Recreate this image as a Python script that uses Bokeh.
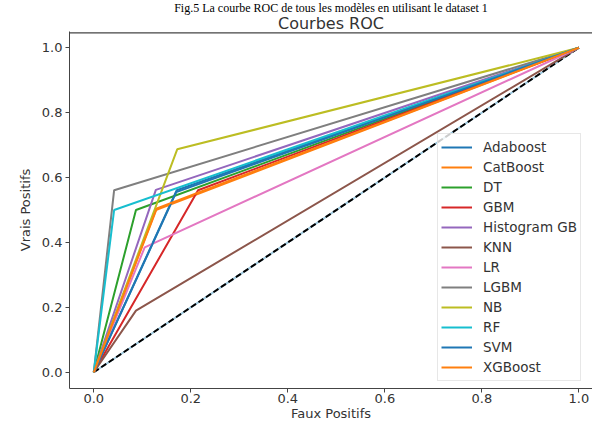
from bokeh.plotting import figure
from bokeh.models import (Range1d, FixedTicker, PrintfTickFormatter, Legend, LegendItem,
                          Span, Title)
from bokeh.embed import file_html
from bokeh.resources import INLINE

models = ["Adaboost", "CatBoost", "DT", "GBM", "Histogram GB", "KNN", "LR", "LGBM",
          "NB", "RF", "SVM", "XGBoost"]
fpr_mid = [0.171, 0.128, 0.087, 0.215, 0.128, 0.087, 0.105, 0.042, 0.172, 0.042, 0.170, 0.130]
tpr_mid = [0.561, 0.500, 0.500, 0.561, 0.562, 0.190, 0.385, 0.561, 0.687, 0.500, 0.555, 0.505]
colors = ["#1f77b4", "#ff7f0e", "#2ca02c", "#d62728", "#9467bd", "#8c564b", "#e377c2",
          "#7f7f7f", "#bcbd22", "#17becf", "#1f77b4", "#ff7f0e"]
diag = [0.0, 1.0]
ticks = [0.0, 0.2, 0.4, 0.6, 0.8, 1.0]
caption_text = "Fig.5 La courbe ROC de tous les modèles en utilisant le dataset 1"
title_text = "Courbes ROC"

FONT = "DejaVu Sans"
TXT = "#333333"
AX = "#444444"

p = figure(width=592, height=428, output_backend="svg", toolbar_location=None,
           x_range=Range1d(-0.05, 1.028), y_range=Range1d(-0.05, 1.05),
           min_border_left=69, min_border_right=0, min_border_top=31, min_border_bottom=40)
p.title = None
p.xgrid.visible = False
p.ygrid.visible = False
p.outline_line_color = None
p.background_fill_color = "white"
p.border_fill_color = "white"

for ax in (p.xaxis[0], p.yaxis[0]):
    ax.ticker = FixedTicker(ticks=ticks)
    ax.formatter = PrintfTickFormatter(format="%.1f")
    ax.minor_tick_line_color = None
    ax.major_tick_in = 0
    ax.major_tick_out = 4
    ax.major_tick_line_color = AX
    ax.axis_line_color = AX
    ax.major_label_text_font = FONT
    ax.major_label_text_font_size = "13px"
    ax.major_label_text_color = TXT
    ax.axis_label_text_font = FONT
    ax.axis_label_text_font_size = "13px"
    ax.axis_label_text_font_style = "normal"
    ax.axis_label_text_color = TXT
p.xaxis.axis_label = "Faux Positifs"
p.yaxis.axis_label = "Vrais Positifs"
p.xaxis.axis_label_standoff = 0
p.yaxis.axis_label_standoff = 6
p.xaxis.major_label_standoff = 1
p.yaxis.major_label_standoff = 3

p.add_layout(Title(text=title_text, align="center", offset=5, standoff=-3, text_font=FONT,
                   text_font_size="16px", text_font_style="normal", text_color=TXT), "above")
p.add_layout(Title(text=caption_text, align="center", offset=-20, standoff=-3,
                   text_font="Liberation Serif", text_font_size="12px",
                   text_font_style="normal", text_color="black"), "above")

# top spine
p.add_layout(Span(location=1.046, dimension="width", line_color=AX, line_width=1.2))

# diagonal
p.line(diag, diag, line_color="#9ecae1", line_width=2)
p.line(diag, diag, line_color="black", line_width=2, line_dash="6 3")

items = []
for name, fx, ty, c in zip(models, fpr_mid, tpr_mid, colors):
    r = p.line([0.0, fx, 1.0], [0.0, ty, 1.0], line_color=c, line_width=2)
    items.append(LegendItem(label=name, renderers=[r]))

legend = Legend(items=items, location=(368, 7), label_text_font=FONT,
                label_text_font_size="13.5px", label_text_color=TXT,
                label_height=20, glyph_height=20, glyph_width=31, spacing=0,
                padding=3, margin=0, label_standoff=11,
                border_line_color="#d0d0d0", border_line_width=1,
                background_fill_color="white", background_fill_alpha=0.8)
p.add_layout(legend, "center")

open("out.html", "w").write(file_html(p, INLINE))
